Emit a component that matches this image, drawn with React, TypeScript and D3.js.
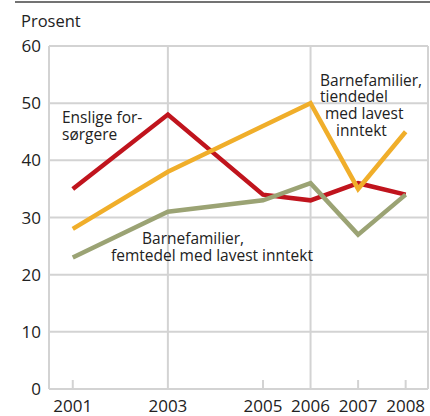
import React from "react";
import * as d3 from "d3";

const years = [2001, 2003, 2005, 2006, 2007, 2008];
const enslige = [35, 48, 34, 33, 36, 34];
const tiendedel = [28, 38, 46, 50, 35, 45];
const femtedel = [23, 31, 33, 36, 27, 34];
const yTicks = [0, 10, 20, 30, 40, 50, 60];
const gridYears = [2003, 2006];
const tickYears = [2001, 2005, 2007, 2008];

const W = 430;
const H = 416;
const left = 49;
const right = 428;
const top = 46;
const bottom = 389;

export default function App() {
  const x = d3.scaleLinear().domain([2000.5, 2008.47]).range([left, right]);
  const y = d3.scaleLinear().domain([0, 60]).range([bottom, top]);
  const line = (vals: number[]) =>
    d3.line<number>().x((_, i) => x(years[i])).y((d) => y(d))(vals) || "";
  const font = "'Open Sans', sans-serif";
  const grid = "#d3d3d3";
  return (
    <svg
      width={W}
      height={H}
      style={{ position: "absolute", left: 0, top: 0, fontFamily: font }}
    >
      <rect width={W} height={H} fill="#fff" />
      <line x1={15} x2={430} y1={2} y2={2} stroke="#444" strokeWidth={1.5} />
      <text x={21} y={27} fontSize={16.5} fill="#222">Prosent</text>
      {yTicks.map((t) => (
        <g key={t}>
          {t > 0 && (
            <line x1={left} x2={right} y1={y(t)} y2={y(t)} stroke={grid} strokeWidth={2} />
          )}
          <text x={41} y={y(t) + 6} fontSize={17} textAnchor="end" fill="#222">
            {t}
          </text>
        </g>
      ))}
      {gridYears.map((g) => (
        <line key={g} x1={x(g)} x2={x(g)} y1={top} y2={bottom} stroke={grid} strokeWidth={2} />
      ))}
      <line x1={right} x2={right} y1={top} y2={bottom} stroke={grid} strokeWidth={2} />
      {tickYears.map((g) => (
        <line key={g} x1={x(g)} x2={x(g)} y1={bottom - 9} y2={bottom} stroke={grid} strokeWidth={2} />
      ))}
      <line x1={left} x2={left} y1={top} y2={bottom} stroke={grid} strokeWidth={2} />
      <line x1={left} x2={right} y1={bottom} y2={bottom} stroke={grid} strokeWidth={2} />
      {years.map((yr) => (
        <text key={yr} x={x(yr)} y={412} fontSize={17} textAnchor="middle" fill="#222">
          {yr}
        </text>
      ))}
      <path d={line(enslige)} fill="none" stroke="#c0141d" strokeWidth={4.5} strokeLinejoin="miter" />
      <path d={line(tiendedel)} fill="none" stroke="#f0ae2a" strokeWidth={4.5} strokeLinejoin="miter" />
      <path d={line(femtedel)} fill="none" stroke="#9ba374" strokeWidth={4.5} strokeLinejoin="miter" />
      <g fontSize={15.5} fill="#222">
        <text x={62} y={123}>Enslige for-</text>
        <text x={62} y={140}>sørgere</text>
        <text x={320} y={86}>Barnefamilier,</text>
        <text x={320} y={102}>tiendedel</text>
        <text x={325} y={119}>med lavest</text>
        <text x={336} y={136}>inntekt</text>
        <text x={142} y={244}>Barnefamilier,</text>
        <text x={111} y={261}>femtedel med lavest inntekt</text>
      </g>
    </svg>
  );
}
